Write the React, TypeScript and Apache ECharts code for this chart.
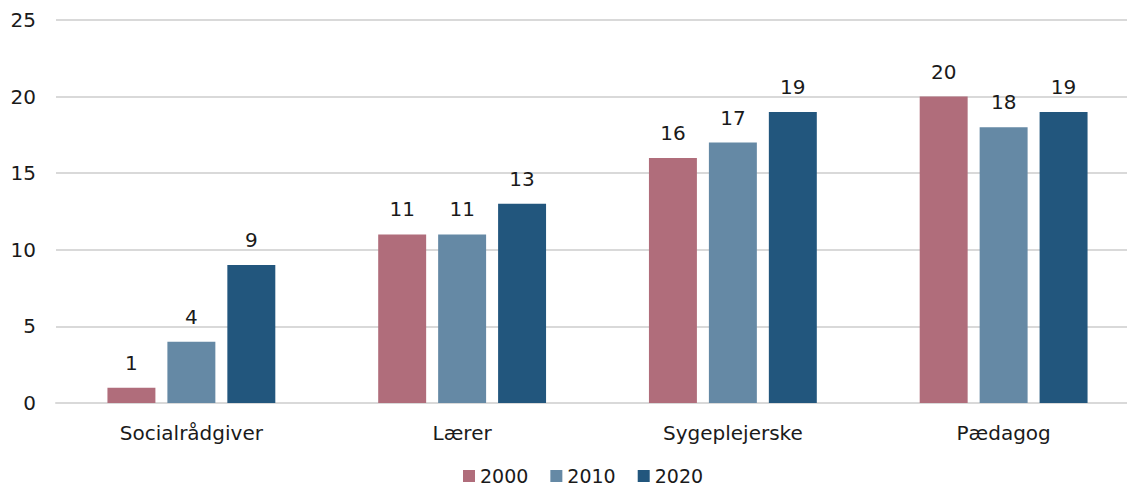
import React, { useEffect, useRef } from "react";
import * as echarts from "echarts";

const categories = ["Socialrådgiver", "Lærer", "Sygeplejerske", "Pædagog"];
const seriesNames = ["2000", "2010", "2020"];
const values2000 = [1, 11, 16, 20];
const values2010 = [4, 11, 17, 18];
const values2020 = [9, 13, 19, 19];
const colors = ["#b06d7b", "#6589a5", "#22567d"];

const FONT = "'DejaVu Sans', sans-serif";

export default function App() {
  const ref = useRef<HTMLDivElement>(null);
  useEffect(() => {
    if (!ref.current) return;
    const chart = echarts.init(ref.current, undefined, { renderer: "svg" });
    const data = [values2000, values2010, values2020];
    chart.setOption({
      animation: false,
      textStyle: { fontFamily: FONT },
      grid: { left: 56, right: 1, top: 20, height: 383, containLabel: false },
      legend: {
        top: 466,
        left: 463,
        padding: 0,
        itemWidth: 12,
        itemHeight: 12,
        itemGap: 22,
        icon: "rect",
        textStyle: { fontSize: 19, color: "#1a1a1a", fontFamily: FONT, lineHeight: 20 },
        data: seriesNames,
      },
      xAxis: {
        type: "category",
        data: categories,
        axisLine: { show: true, lineStyle: { color: "#d9d9d9", width: 2 } },
        axisTick: { show: false },
        axisLabel: { fontSize: 20, color: "#1a1a1a", margin: 20, fontFamily: FONT },
      },
      yAxis: {
        type: "value",
        min: 0,
        max: 25,
        interval: 5,
        axisLine: { show: false },
        axisTick: { show: false },
        splitLine: { lineStyle: { color: "#d9d9d9", width: 2 } },
        axisLabel: { fontSize: 20, color: "#1a1a1a", margin: 20, fontFamily: FONT },
      },
      series: seriesNames.map((name, i) => ({
        name,
        type: "bar",
        data: data[i],
        barGap: "25%",
        barCategoryGap: "38%",
        itemStyle: { color: colors[i] },
        label: {
          show: true,
          position: "top",
          distance: 15,
          fontSize: 20,
          color: "#1a1a1a",
          fontFamily: FONT,
        },
      })),
    });
    return () => chart.dispose();
  }, []);
  return (
    <div
      style={{ position: "absolute", left: 0, top: 0, width: 1127, height: 490, overflow: "hidden" }}
    >
      <div ref={ref} style={{ width: 1140, height: 490 }} />
    </div>
  );
}
